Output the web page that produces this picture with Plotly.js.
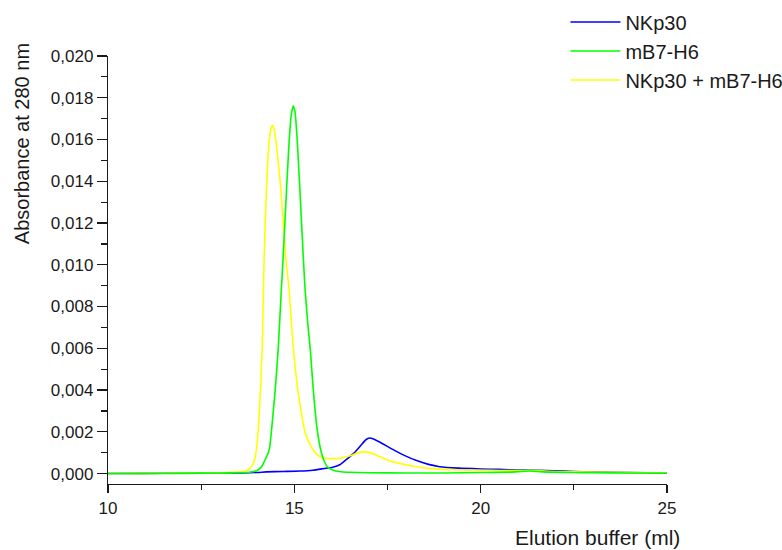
<!DOCTYPE html>
<html>
<head>
<meta charset="utf-8">
<script src="https://cdn.plot.ly/plotly-3.0.1.min.js"></script>
<style>html,body{margin:0;padding:0;background:#fff;}#chart{width:782px;height:550px;}</style>
</head>
<body>
<div id="chart"></div>
<script>
// Series names
const seriesNames = ["NKp30", "mB7-H6", "NKp30 + mB7-H6"];

// NKp30 (blue)
const xNKp30 = [10, 11, 12, 13, 13.54, 14, 14.25, 14.7, 15.15, 15.5, 15.8, 16.03, 16.22, 16.4, 16.6, 16.8, 16.92, 17.02, 17.12, 17.3, 17.5, 17.7, 17.95, 18.28, 18.6, 18.9, 19.4, 20, 20.5, 21, 21.5, 22, 22.5, 23, 24, 25];
const yNKp30 = [0.00000, 0.00001, 0.00002, 0.00003, 0.00003, 0.00005, 0.00008, 0.00010, 0.00012, 0.00016, 0.00024, 0.00030, 0.00042, 0.00068, 0.00098, 0.00138, 0.00162, 0.00170, 0.00166, 0.00150, 0.00130, 0.00110, 0.00087, 0.00062, 0.00044, 0.00033, 0.00026, 0.00022, 0.00020, 0.00017, 0.00016, 0.00013, 0.00010, 0.00008, 0.00005, 0.00002];

// mB7-H6 (green)
const xMB7 = [10, 11, 12, 13, 13.5, 13.8, 14.0, 14.12, 14.2, 14.3, 14.34, 14.43, 14.5, 14.57, 14.65, 14.7, 14.79, 14.86, 14.92, 14.97, 15.02, 15.08, 15.15, 15.24, 15.29, 15.36, 15.43, 15.5, 15.6, 15.7, 15.8, 15.9, 16.05, 16.2, 16.5, 17, 18, 19, 20, 20.8, 21.3, 21.8, 22.5, 23, 24, 25];
const yMB7 = [0.00000, 0.00000, 0.00001, 0.00003, 0.00004, 0.00006, 0.00015, 0.00032, 0.00060, 0.00100, 0.00127, 0.00287, 0.00430, 0.00606, 0.00878, 0.01037, 0.01357, 0.01590, 0.01720, 0.01762, 0.01730, 0.01590, 0.01357, 0.01037, 0.00878, 0.00720, 0.00590, 0.00420, 0.00230, 0.00120, 0.00060, 0.00030, 0.00016, 0.00010, 0.00006, 0.00004, 0.00003, 0.00003, 0.00005, 0.00007, 0.00012, 0.00007, 0.00005, 0.00004, 0.00003, 0.00003];

// NKp30 + mB7-H6 (yellow)
const xMix = [10, 11, 12, 13, 13.5, 13.62, 13.75, 13.85, 13.94, 13.99, 14.06, 14.14, 14.17, 14.19, 14.25, 14.31, 14.37, 14.42, 14.47, 14.52, 14.58, 14.64, 14.77, 14.86, 14.97, 15.08, 15.19, 15.3, 15.46, 15.6, 15.76, 16.0, 16.22, 16.5, 16.7, 16.89, 17.05, 17.3, 17.55, 17.83, 18.2, 18.6, 19, 19.5, 20, 20.5, 21, 21.3, 21.6, 22, 23, 24, 25];
const yMix = [0.00000, 0.00001, 0.00002, 0.00004, 0.00008, 0.00010, 0.00018, 0.00032, 0.00070, 0.00127, 0.00287, 0.00606, 0.00878, 0.01037, 0.01357, 0.01560, 0.01650, 0.01668, 0.01640, 0.01570, 0.01470, 0.01357, 0.01037, 0.00878, 0.00606, 0.00420, 0.00287, 0.00190, 0.00127, 0.00092, 0.00076, 0.00072, 0.00073, 0.00085, 0.00099, 0.00104, 0.00099, 0.00080, 0.00061, 0.00048, 0.00035, 0.00025, 0.00020, 0.00017, 0.00016, 0.00015, 0.00014, 0.00016, 0.00013, 0.00010, 0.00007, 0.00005, 0.00004];

// Axis ticks
const xTicks = [10, 15, 20, 25];
const yTicks = [0, 0.002, 0.004, 0.006, 0.008, 0.010, 0.012, 0.014, 0.016, 0.018, 0.020];

const FONT = "Liberation Sans, Arial, sans-serif";
const INK = "#1a1a1a";

const traces = [
  {x: xNKp30, y: yNKp30, name: seriesNames[0], type: "scatter", mode: "lines",
   line: {color: "#0000ff", width: 1.6, shape: "spline", smoothing: 0.5}, legendrank: 1},
  {x: xMix, y: yMix, name: seriesNames[2], type: "scatter", mode: "lines",
   line: {color: "#ffff00", width: 1.6, shape: "spline", smoothing: 0.5}, legendrank: 3},
  {x: xMB7, y: yMB7, name: seriesNames[1], type: "scatter", mode: "lines",
   line: {color: "#00ff00", width: 1.6, shape: "spline", smoothing: 0.5}, legendrank: 2}
];

const layout = {
  width: 782, height: 550,
  margin: {l: 108, r: 115, t: 56, b: 66, pad: 0, autoexpand: false},
  paper_bgcolor: "#ffffff", plot_bgcolor: "#ffffff",
  separators: ",.",
  font: {family: FONT, size: 15, color: INK},
  showlegend: true,
  legend: {x: 0.8183, y: 1.125, xanchor: "left", yanchor: "top", bgcolor: "rgba(0,0,0,0)",
           font: {family: FONT, size: 20, color: INK}, itemwidth: 50, tracegroupgap: 0},
  xaxis: {range: [10, 25], tickvals: xTicks, ticktext: xTicks.map(String), showline: true, linecolor: INK, linewidth: 1.2,
          ticks: "outside", ticklen: 8, tickwidth: 1.2, tickcolor: INK, showgrid: false, zeroline: false,
          minor: {dtick: 2.5, tick0: 10, ticks: "outside", ticklen: 5, tickwidth: 1.2, tickcolor: INK, showgrid: false},
          tickfont: {family: FONT, size: 17, color: INK}},
  yaxis: {range: [-0.0005, 0.020], tickvals: yTicks, tickformat: ".3f", showline: true, linecolor: INK, linewidth: 1.2,
          ticks: "outside", ticklen: 10, tickwidth: 1.2, tickcolor: INK, showgrid: false, zeroline: false,
          minor: {dtick: 0.001, tick0: 0, ticks: "outside", ticklen: 6, tickwidth: 1.2, tickcolor: INK, showgrid: false},
          tickfont: {family: FONT, size: 17, color: INK}},
  annotations: [
    {text: "Absorbance at 280 nm", xref: "paper", yref: "paper", x: -0.1538, y: 0.794, textangle: -90,
     showarrow: false, xanchor: "center", yanchor: "middle", font: {family: FONT, size: 20, color: INK}},
    {text: "Elution buffer (ml)", xref: "paper", yref: "paper", x: 1.0268, y: -0.126,
     showarrow: false, xanchor: "right", yanchor: "middle", font: {family: FONT, size: 21, color: INK}}
  ]
};

Plotly.newPlot("chart", traces, layout, {displayModeBar: false, staticPlot: true});
</script>
</body>
</html>
